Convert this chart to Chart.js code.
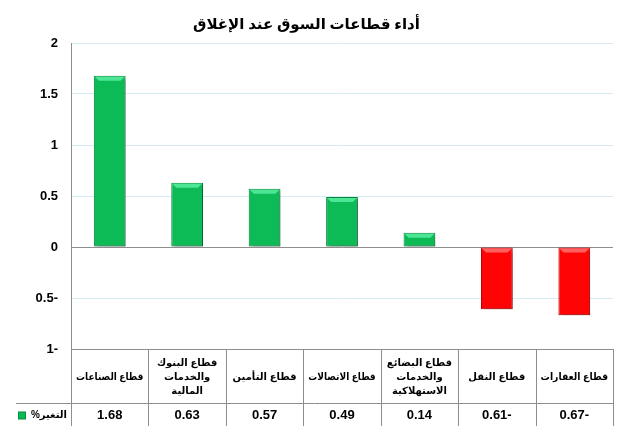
<!DOCTYPE html>
<html>
<head>
<meta charset="utf-8">
<script src="https://cdn.jsdelivr.net/npm/chart.js@4"></script>
<style>
  body { margin: 0; background: #fff; }
  #wrap { width: 636px; height: 426px; }
</style>
</head>
<body>
<div id="wrap"><canvas id="sectors-chart"></canvas></div>
<script>
// بيانات الرسم
var categories = [
    ['قطاع الصناعات'],
    ['قطاع البنوك', 'والخدمات', 'المالية'],
    ['قطاع التأمين'],
    ['قطاع الاتصالات'],
    ['قطاع البضائع', 'والخدمات', 'الاستهلاكية'],
    ['قطاع النقل'],
    ['قطاع العقارات']
];
var changes = [1.68, 0.63, 0.57, 0.49, 0.14, -0.61, -0.67];
var seriesName = 'التغير%';
var chartTitle = 'أداء قطاعات السوق عند الإغلاق';
var yMin = -1, yMax = 2, yStep = 0.5;

var FONT = 'Arial, "Liberation Sans", "DejaVu Sans", sans-serif';
var GREEN = '#0cba56', GREEN_DARK = '#07893e', GREEN_LIGHT = '#4de596';
var RED = '#ff0404', RED_DARK = '#c40000', RED_LIGHT = '#ff6060';
var LINE_GRAY = '#8e8e8e';
var TABLE_H = 77, CAT_ROW_H = 54;

// الأرقام السالبة تكتب بالإشارة على اليمين
function fmt(v, digits) {
    var s = digits === undefined ? String(Math.abs(v)) : Math.abs(v).toFixed(digits);
    return v < 0 ? s + '-' : s;
}

// ظل و حافة فاتحة للأعمدة
var barStyle = {
    id: 'barStyle',
    beforeDatasetsDraw: function (chart) {
        var ctx = chart.ctx;
        ctx.save();
        ctx.shadowColor = 'rgba(0,0,0,0.35)';
        ctx.shadowBlur = 3;
        ctx.shadowOffsetX = 2;
        ctx.shadowOffsetY = 2;
    },
    afterDatasetsDraw: function (chart) {
        var ctx = chart.ctx;
        ctx.restore();
        var meta = chart.getDatasetMeta(0);
        meta.data.forEach(function (bar, i) {
            var top = Math.min(bar.y, bar.base);
            var left = bar.x - bar.width / 2 + 1;
            var right = bar.x + bar.width / 2 - 1;
            ctx.save();
            ctx.fillStyle = changes[i] < 0 ? RED_LIGHT : GREEN_LIGHT;
            ctx.beginPath();
            ctx.moveTo(left, top + 1);
            ctx.lineTo(right, top + 1);
            ctx.lineTo(right - 4, top + 5);
            ctx.lineTo(left + 4, top + 5);
            ctx.closePath();
            ctx.fill();
            ctx.restore();
        });
    }
};

// جدول البيانات أسفل المحور
var dataTable = {
    id: 'dataTable',
    afterDraw: function (chart) {
        var ctx = chart.ctx;
        var area = chart.chartArea;
        var xs = chart.scales.x;
        var n = categories.length;
        var top = area.bottom;
        var mid = top + CAT_ROW_H;
        var bottom = chart.height;
        var colW = (area.right - area.left) / n;

        ctx.save();
        ctx.strokeStyle = LINE_GRAY;
        ctx.lineWidth = 1;
        ctx.beginPath();
        ctx.moveTo(area.left, Math.round(top) + 0.5);
        ctx.lineTo(area.right, Math.round(top) + 0.5);
        ctx.moveTo(16, Math.round(mid) + 0.5);
        ctx.lineTo(area.right, Math.round(mid) + 0.5);
        for (var i = 0; i <= n; i++) {
            var bx = Math.round(area.left + i * colW) + 0.5;
            ctx.moveTo(bx, top);
            ctx.lineTo(bx, bottom);
        }
        ctx.stroke();

        ctx.fillStyle = '#000';
        ctx.textAlign = 'center';
        ctx.textBaseline = 'middle';
        ctx.direction = 'rtl';
        ctx.font = 'bold 10px ' + FONT;
        var rowMid = (top + mid) / 2 + 1;
        categories.forEach(function (lines, i) {
            var cx = xs.getPixelForValue(i);
            var y0 = rowMid - (lines.length - 1) * 14 / 2;
            lines.forEach(function (line, j) {
                ctx.fillText(line, cx, y0 + j * 14, colW - 10);
            });
        });

        ctx.direction = 'ltr';
        ctx.font = 'bold 13px ' + FONT;
        var valMid = (mid + bottom) / 2 + 1;
        changes.forEach(function (v, i) {
            ctx.fillText(fmt(v, 2), xs.getPixelForValue(i), valMid);
        });

        // مفتاح السلسلة
        ctx.fillStyle = GREEN_DARK;
        ctx.fillRect(18, valMid - 4, 8, 8);
        ctx.fillStyle = GREEN;
        ctx.fillRect(19, valMid - 3, 6, 6);
        ctx.fillStyle = '#000';
        ctx.font = 'bold 10px ' + FONT;
        ctx.direction = 'rtl';
        ctx.textAlign = 'right';
        ctx.fillText(seriesName, 67, valMid, 40);
        ctx.restore();
    }
};

var ctx = document.getElementById('sectors-chart').getContext('2d');
var sectorsChart = new Chart(ctx, {
    type: 'bar',
    data: {
        labels: categories,
        datasets: [{
            label: seriesName,
            data: changes,
            backgroundColor: function (c) { return c.raw < 0 ? RED : GREEN; },
            borderColor: function (c) { return c.raw < 0 ? RED_DARK : GREEN_DARK; },
            borderWidth: 1,
            borderSkipped: false,
            categoryPercentage: 1,
            barPercentage: 0.41
        }]
    },
    options: {
        responsive: true,
        maintainAspectRatio: false,
        animation: false,
        layout: { padding: { left: 0, right: 23, top: 0, bottom: 0 } },
        plugins: {
            legend: { display: false },
            tooltip: { enabled: false },
            title: {
                display: true,
                text: chartTitle,
                color: '#000',
                font: { family: '"Liberation Serif", "DejaVu Sans", serif', size: 15, weight: 'bold' },
                padding: { top: 16, bottom: 9 }
            }
        },
        scales: {
            x: {
                ticks: { display: false },
                grid: { display: false },
                border: { display: false },
                afterFit: function (s) { s.height = TABLE_H; }
            },
            y: {
                min: yMin,
                max: yMax,
                ticks: {
                    stepSize: yStep,
                    color: '#000',
                    padding: 13,
                    font: { family: FONT, size: 13, weight: 'bold' },
                    callback: function (v) { return fmt(v); }
                },
                grid: {
                    drawTicks: false,
                    color: function (c) {
                        return (c.tick.value === 0 || c.tick.value === yMin) ? LINE_GRAY : '#d6ecf4';
                    }
                },
                border: { color: LINE_GRAY },
                afterFit: function (s) { s.width = 71; }
            }
        }
    },
    plugins: [barStyle, dataTable]
});
</script>
</body>
</html>
